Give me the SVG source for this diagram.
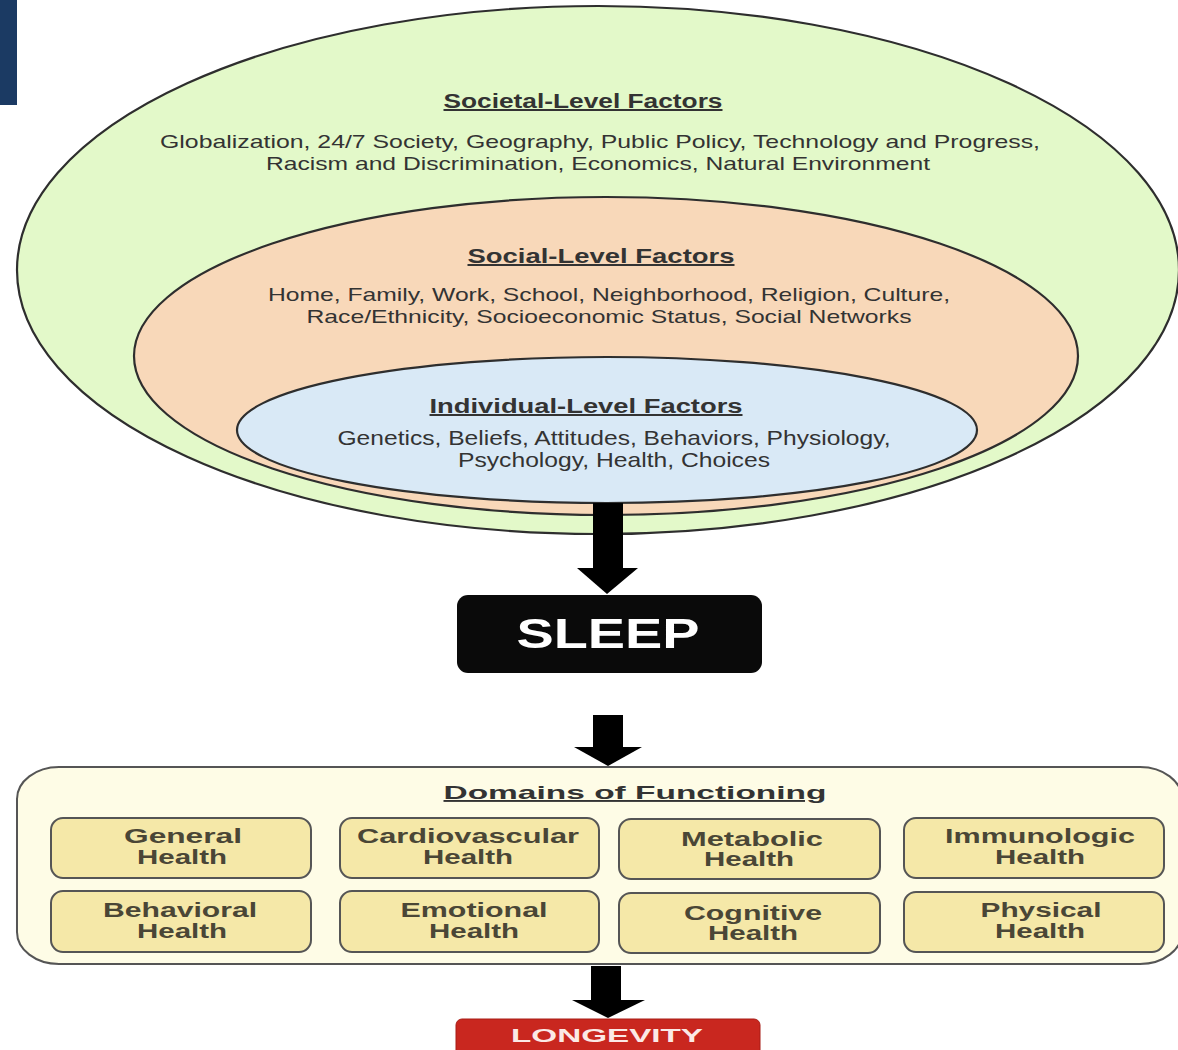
<svg xmlns="http://www.w3.org/2000/svg" width="1178" height="1050" viewBox="0 0 1178 1050">
<style>
.t{font-family:"Liberation Sans",Arial,sans-serif;fill:#333;text-anchor:middle}
.h{font-weight:bold;text-decoration:underline;font-size:20px}
.b{font-size:19px}
.bi{font-size:21px}
.bx{font-family:"Liberation Sans",Arial,sans-serif;font-weight:bold;font-size:20px;fill:#4a4636;text-anchor:middle}
.sub{fill:#f5e8a8;stroke:#555;stroke-width:2}
.ell{stroke:#2e2e2e;stroke-width:2.2}
.arr{fill:#000}
</style>
<rect x="0" y="0" width="17" height="105" fill="#1b3a63"/>
<g id="societal">
<ellipse class="ell" cx="598" cy="270" rx="581" ry="264" fill="#e3f9c9"/>
<text class="t h" x="583" y="108" textLength="279" lengthAdjust="spacingAndGlyphs">Societal-Level Factors</text>
<text class="t b" x="600" y="148" textLength="880" lengthAdjust="spacingAndGlyphs">Globalization, 24/7 Society, Geography, Public Policy, Technology and Progress,</text>
<text class="t b" x="598" y="170" textLength="664" lengthAdjust="spacingAndGlyphs">Racism and Discrimination, Economics, Natural Environment</text>
</g>
<g id="social">
<ellipse class="ell" cx="606" cy="356" rx="472" ry="159" fill="#f8d8b9"/>
<text class="t h" x="601" y="263" textLength="267" lengthAdjust="spacingAndGlyphs">Social-Level Factors</text>
<text class="t b" x="609" y="301" textLength="682" lengthAdjust="spacingAndGlyphs">Home, Family, Work, School, Neighborhood, Religion, Culture,</text>
<text class="t b" x="609" y="323" textLength="605" lengthAdjust="spacingAndGlyphs">Race/Ethnicity, Socioeconomic Status, Social Networks</text>
</g>
<g id="individual">
<ellipse class="ell" cx="607" cy="430" rx="370" ry="73" fill="#d9e9f6"/>
<text class="t h" x="586" y="413" textLength="313" lengthAdjust="spacingAndGlyphs">Individual-Level Factors</text>
<text class="t bi" x="614" y="445" textLength="553" lengthAdjust="spacingAndGlyphs">Genetics, Beliefs, Attitudes, Behaviors, Physiology,</text>
<text class="t bi" x="614" y="467" textLength="312" lengthAdjust="spacingAndGlyphs">Psychology, Health, Choices</text>
</g>
<g id="connectors">
<rect class="arr" x="593" y="503" width="30" height="67"/>
<polygon class="arr" points="577,568 638,568 607,594"/>
<rect class="arr" x="593" y="715" width="30" height="34"/>
<polygon class="arr" points="574,747 642,747 608,766"/>
<rect class="arr" x="591" y="966" width="30" height="36"/>
<polygon class="arr" points="572,1000 645,1000 608,1018"/>
</g>
<g id="sleep">
<rect x="457" y="595" width="305" height="78" rx="11" fill="#0a0a0a"/>
<text x="608" y="648" font-family="Liberation Sans, Arial, sans-serif" font-weight="bold" font-size="42" fill="#fff" text-anchor="middle" textLength="183" lengthAdjust="spacingAndGlyphs">SLEEP</text>
</g>
<g id="domains">
<rect x="17" y="767" width="1165" height="197" rx="42" ry="32" fill="#fefce6" stroke="#555" stroke-width="2"/>
<text class="t" x="635" y="799" font-weight="bold" font-size="19" text-decoration="underline" textLength="383" lengthAdjust="spacingAndGlyphs">Domains of Functioning</text>
</g>
<g id="general-health">
<rect class="sub" x="51" y="818" width="260" height="60" rx="12"/>
<text class="bx" x="183" y="843" textLength="118" lengthAdjust="spacingAndGlyphs">General</text>
<text class="bx" x="182" y="864" textLength="90" lengthAdjust="spacingAndGlyphs">Health</text>
</g>
<g id="cardiovascular-health">
<rect class="sub" x="340" y="818" width="259" height="60" rx="12"/>
<text class="bx" x="468" y="843" textLength="222" lengthAdjust="spacingAndGlyphs">Cardiovascular</text>
<text class="bx" x="468" y="864" textLength="90" lengthAdjust="spacingAndGlyphs">Health</text>
</g>
<g id="metabolic-health">
<rect class="sub" x="619" y="819" width="261" height="60" rx="12"/>
<text class="bx" x="752" y="846" textLength="142" lengthAdjust="spacingAndGlyphs">Metabolic</text>
<text class="bx" x="749" y="866" textLength="90" lengthAdjust="spacingAndGlyphs">Health</text>
</g>
<g id="immunologic-health">
<rect class="sub" x="904" y="818" width="260" height="60" rx="12"/>
<text class="bx" x="1040" y="843" textLength="190" lengthAdjust="spacingAndGlyphs">Immunologic</text>
<text class="bx" x="1040" y="864" textLength="90" lengthAdjust="spacingAndGlyphs">Health</text>
</g>
<g id="behavioral-health">
<rect class="sub" x="51" y="891" width="260" height="61" rx="12"/>
<text class="bx" x="180" y="917" textLength="154" lengthAdjust="spacingAndGlyphs">Behavioral</text>
<text class="bx" x="182" y="938" textLength="90" lengthAdjust="spacingAndGlyphs">Health</text>
</g>
<g id="emotional-health">
<rect class="sub" x="340" y="891" width="259" height="61" rx="12"/>
<text class="bx" x="474" y="917" textLength="147" lengthAdjust="spacingAndGlyphs">Emotional</text>
<text class="bx" x="474" y="938" textLength="90" lengthAdjust="spacingAndGlyphs">Health</text>
</g>
<g id="cognitive-health">
<rect class="sub" x="619" y="893" width="261" height="60" rx="12"/>
<text class="bx" x="753" y="920" textLength="138" lengthAdjust="spacingAndGlyphs">Cognitive</text>
<text class="bx" x="753" y="940" textLength="90" lengthAdjust="spacingAndGlyphs">Health</text>
</g>
<g id="physical-health">
<rect class="sub" x="904" y="892" width="260" height="60" rx="12"/>
<text class="bx" x="1041" y="917" textLength="121" lengthAdjust="spacingAndGlyphs">Physical</text>
<text class="bx" x="1040" y="938" textLength="90" lengthAdjust="spacingAndGlyphs">Health</text>
</g>
<g id="longevity">
<rect x="456" y="1019" width="304" height="50" rx="6" fill="#c9271f" stroke="#a81d17" stroke-width="1"/>
<text x="607" y="1042" font-family="Liberation Sans, Arial, sans-serif" font-weight="bold" font-size="18" fill="#fbe9e6" text-anchor="middle" textLength="192" lengthAdjust="spacingAndGlyphs">LONGEVITY</text>
</g>
</svg>
